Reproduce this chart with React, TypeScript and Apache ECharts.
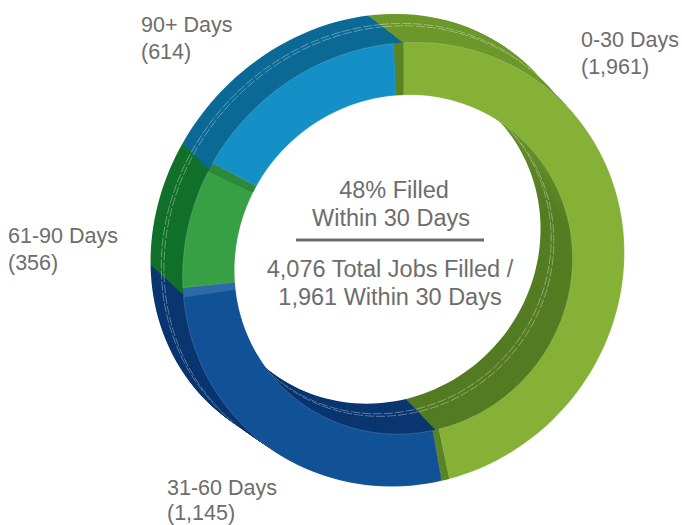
import React, { useEffect, useRef } from "react";
import * as echarts from "echarts";

// Text as printed in the reference.
const categories = ["0-30 Days", "31-60 Days", "61-90 Days", "90+ Days"];
const jobCounts = ["1,961", "1,145", "356", "614"];
const centerTop = ["48% Filled", "Within 30 Days"];
const centerBottom = ["4,076 Total Jobs Filled /", "1,961 Within 30 Days"];

// Slice sweeps in degrees as measured on the picture. The reference's 3D drawing
// does not sweep its slices in proportion to the printed counts.
const bodyArcs = [169, 93, 34, 64];
// Front faces, each followed by the narrow end wall seen beside it.
const faceArcs = [168, 91.6, 31.5, 59.5];
const wallArcs = [2, 2.4, 2.5, 2.5];

const faceColors = ["#85b236", "#115296", "#379f44", "#1490c6"];
const sideColors = ["#547d22", "#0a3670", "#11702a", "#0c6a95"];
const endWallColors = ["#5a8324", "#2f6aa8", "#2a8a3a", "#5a8324"];

// The ring is tilted: both faces are ellipses, squashed along the depth direction.
const MINOR = [0.74, 0.67];
const MAJOR = [0.67, -0.74];
const FRONT_OUTER = { x: 403.5, y: 264.5, a: 227, b: 215 };
const FRONT_INNER = { x: 403.5, y: 264.5, a: 172, b: 166 };
const BACK_OUTER = { x: 368.5, y: 234.5, a: 232, b: 205 };
const BACK_INNER = { x: 374.6, y: 236.9, a: 170, b: 162 };
const DEPTH_STEPS = 36;
const STITCH_AT = [0.33, 0.42];
const TEXT = "#6d6d6d";
const FONT = "'Liberation Sans', Arial, sans-serif";

type Ell = { x: number; y: number; a: number; b: number };
const mix = (p: number, q: number, t: number) => p + (q - p) * t;
const ellAt = (back: Ell, front: Ell, t: number): Ell => ({
  x: mix(back.x, front.x, t),
  y: mix(back.y, front.y, t),
  a: mix(back.a, front.a, t),
  b: mix(back.b, front.b, t),
});

// Where the ray at `deg` (clockwise from 12 o'clock) leaves the ellipse.
function pointOn(e: Ell, deg: number): [number, number] {
  const r = (deg * Math.PI) / 180;
  const ux = Math.sin(r);
  const uy = -Math.cos(r);
  const m = (ux * MINOR[0] + uy * MINOR[1]) / e.b;
  const n = (ux * MAJOR[0] + uy * MAJOR[1]) / e.a;
  const len = 1 / Math.sqrt(m * m + n * n);
  return [e.x + ux * len, e.y + uy * len];
}

function arcPoints(e: Ell, from: number, to: number) {
  const steps = Math.max(2, Math.ceil((to - from) / 2));
  const pts: [number, number][] = [];
  for (let i = 0; i <= steps; i++) pts.push(pointOn(e, from + ((to - from) * i) / steps));
  return pts;
}

const greenSide = () =>
  new echarts.graphic.LinearGradient(0, 0, 0, 1, [
    { offset: 0, color: "#6c982b" },
    { offset: 0.22, color: "#6a952b" },
    { offset: 0.42, color: "#547d22" },
    { offset: 1, color: "#527a21" },
  ]);

type Row = { from: number; to: number; t: number; style: any; stitch?: boolean };

function buildRows(): Row[] {
  const rows: Row[] = [];
  const stitched = new Set(STITCH_AT.map((t) => Math.round(t * DEPTH_STEPS)));
  for (let s = 0; s < DEPTH_STEPS; s++) {
    let at = 0;
    bodyArcs.forEach((v, i) => {
      rows.push({
        from: at,
        to: at + v,
        t: s / DEPTH_STEPS,
        style: { fill: i === 0 ? greenSide() : sideColors[i] },
      });
      at += v;
    });
    if (stitched.has(s)) {
      rows.push({
        from: 0,
        to: 360,
        t: s / DEPTH_STEPS,
        stitch: true,
        style: {
          fill: "none",
          stroke: "rgba(255,255,255,0.5)",
          lineWidth: 0.7,
          lineDash: [9, 2],
        },
      });
    }
  }
  let at = 0;
  faceArcs.forEach((v, i) => {
    rows.push({
      from: at,
      to: at + v,
      t: 1,
      style: { fill: faceColors[i], stroke: "rgba(255,255,255,0.25)", lineWidth: 0.6 },
    });
    at += v;
    rows.push({ from: at, to: at + wallArcs[i], t: 1, style: { fill: endWallColors[i] } });
    at += wallArcs[i];
  });
  return rows;
}

function buildSeries() {
  const rows = buildRows();
  return [
    {
      type: "custom",
      coordinateSystem: "none",
      silent: true,
      animation: false,
      data: rows.map((r) => [r.from, r.to, r.t]),
      renderItem: (params: any, api: any) => {
        const row = rows[params.dataIndex];
        const from = api.value(0);
        const to = api.value(1);
        const t = api.value(2);
        const outer = arcPoints(ellAt(BACK_OUTER, FRONT_OUTER, t), from, to);
        const inner = arcPoints(ellAt(BACK_INNER, FRONT_INNER, t), from, to);
        if (row.stitch) {
          return {
            type: "group",
            children: [outer, inner].map((points) => ({
              type: "polyline",
              shape: { points },
              style: row.style,
              silent: true,
            })),
          };
        }
        return {
          type: "polygon",
          shape: { points: outer.concat(inner.reverse()) },
          style: row.style,
          silent: true,
        };
      },
    },
  ];
}

const labelAt = [
  { x: 581, y: 40, gap: 27 },
  { x: 167, y: 488, gap: 25 },
  { x: 8, y: 236, gap: 27 },
  { x: 141, y: 25, gap: 27 },
];

function text(str: string, x: number, y: number, align: string, size: number) {
  return {
    type: "text",
    x,
    y,
    silent: true,
    style: {
      text: str,
      fill: TEXT,
      font: `${size}px ${FONT}`,
      textAlign: align,
      textVerticalAlign: "middle",
    },
  };
}

function buildGraphics() {
  const out: any[] = [];
  categories.forEach((c, i) => {
    const p = labelAt[i];
    out.push(text(c, p.x, p.y, "left", 21.5));
    out.push(text(`(${jobCounts[i]})`, p.x, p.y + p.gap, "left", 21.5));
  });
  out.push(text(centerTop[0], 394, 190, "center", 23.5));
  out.push(text(centerTop[1], 391, 218, "center", 23.5));
  out.push({
    type: "line",
    silent: true,
    shape: { x1: 296, y1: 240, x2: 484, y2: 240 },
    style: { stroke: "#6d6d6d", lineWidth: 3 },
  });
  out.push(text(centerBottom[0], 390, 269, "center", 23.5));
  out.push(text(centerBottom[1], 390, 297, "center", 23.5));
  return out;
}

export default function App() {
  const ref = useRef<HTMLDivElement>(null);
  useEffect(() => {
    document.body.style.margin = "0";
    const chart = echarts.init(ref.current!, undefined, { renderer: "svg" });
    chart.setOption({
      animation: false,
      backgroundColor: "#ffffff",
      tooltip: { show: false },
      legend: { show: false },
      series: buildSeries(),
      graphic: buildGraphics(),
    });
    return () => chart.dispose();
  }, []);
  return <div ref={ref} style={{ width: 682, height: 525 }} />;
}
